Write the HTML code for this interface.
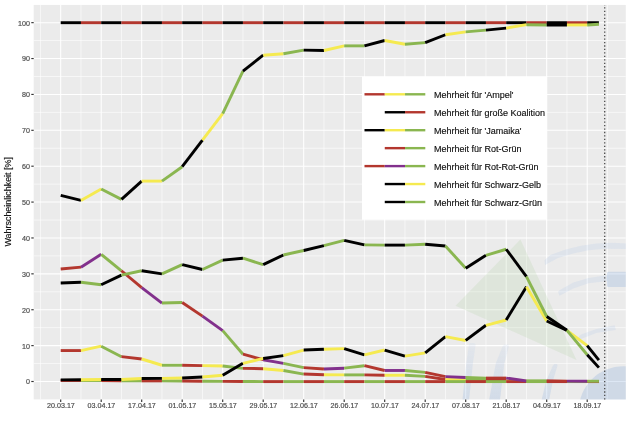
<!DOCTYPE html>
<html><head><meta charset="utf-8"><title>Chart</title>
<style>
html,body{margin:0;padding:0;background:#fff;}
body{width:630px;height:424px;overflow:hidden;font-family:"Liberation Sans",sans-serif;}
svg{display:block;will-change:transform;}
text{font-family:"Liberation Sans",sans-serif;}
.t{font-size:7.15px;fill:#4d4d4d;stroke:#4d4d4d;stroke-width:0.18px;}
.l{font-size:9.0px;fill:#111;stroke:#111;stroke-width:0.15px;}
.a{font-size:8.95px;fill:#111;stroke:#111;stroke-width:0.15px;}
</style></head><body>
<svg width="630" height="424" viewBox="0 0 630 424">
<rect width="630" height="424" fill="#fff"/>
<defs><linearGradient id="lg" gradientUnits="userSpaceOnUse" x1="0" y1="340" x2="0" y2="400"><stop offset="0" stop-color="#8fb4e3" stop-opacity="0.08"/><stop offset="1" stop-color="#8fb2e0" stop-opacity="0.27"/></linearGradient><filter id="bl" x="-5%" y="-5%" width="110%" height="110%"><feGaussianBlur stdDeviation="0.7"/></filter><clipPath id="p"><rect x="33.7" y="4.95" width="592.0999999999999" height="394.45"/></clipPath></defs>
<rect x="33.7" y="4.95" width="592.0999999999999" height="394.45" fill="#ebebeb"/>
<g>
<line x1="33.7" x2="625.8" y1="363.56" y2="363.56" stroke="#fff" stroke-width="0.6"/>
<line x1="33.7" x2="625.8" y1="327.67" y2="327.67" stroke="#fff" stroke-width="0.6"/>
<line x1="33.7" x2="625.8" y1="291.79" y2="291.79" stroke="#fff" stroke-width="0.6"/>
<line x1="33.7" x2="625.8" y1="255.90" y2="255.90" stroke="#fff" stroke-width="0.6"/>
<line x1="33.7" x2="625.8" y1="220.02" y2="220.02" stroke="#fff" stroke-width="0.6"/>
<line x1="33.7" x2="625.8" y1="184.13" y2="184.13" stroke="#fff" stroke-width="0.6"/>
<line x1="33.7" x2="625.8" y1="148.25" y2="148.25" stroke="#fff" stroke-width="0.6"/>
<line x1="33.7" x2="625.8" y1="112.36" y2="112.36" stroke="#fff" stroke-width="0.6"/>
<line x1="33.7" x2="625.8" y1="76.48" y2="76.48" stroke="#fff" stroke-width="0.6"/>
<line x1="33.7" x2="625.8" y1="40.59" y2="40.59" stroke="#fff" stroke-width="0.6"/>
<line y1="4.95" y2="399.4" x1="40.45" x2="40.45" stroke="#fff" stroke-width="0.6"/>
<line y1="4.95" y2="399.4" x1="80.95" x2="80.95" stroke="#fff" stroke-width="0.6"/>
<line y1="4.95" y2="399.4" x1="121.45" x2="121.45" stroke="#fff" stroke-width="0.6"/>
<line y1="4.95" y2="399.4" x1="161.95" x2="161.95" stroke="#fff" stroke-width="0.6"/>
<line y1="4.95" y2="399.4" x1="202.45" x2="202.45" stroke="#fff" stroke-width="0.6"/>
<line y1="4.95" y2="399.4" x1="242.95" x2="242.95" stroke="#fff" stroke-width="0.6"/>
<line y1="4.95" y2="399.4" x1="283.45" x2="283.45" stroke="#fff" stroke-width="0.6"/>
<line y1="4.95" y2="399.4" x1="323.95" x2="323.95" stroke="#fff" stroke-width="0.6"/>
<line y1="4.95" y2="399.4" x1="364.45" x2="364.45" stroke="#fff" stroke-width="0.6"/>
<line y1="4.95" y2="399.4" x1="404.95" x2="404.95" stroke="#fff" stroke-width="0.6"/>
<line y1="4.95" y2="399.4" x1="445.45" x2="445.45" stroke="#fff" stroke-width="0.6"/>
<line y1="4.95" y2="399.4" x1="485.95" x2="485.95" stroke="#fff" stroke-width="0.6"/>
<line y1="4.95" y2="399.4" x1="526.45" x2="526.45" stroke="#fff" stroke-width="0.6"/>
<line y1="4.95" y2="399.4" x1="566.95" x2="566.95" stroke="#fff" stroke-width="0.6"/>
<line y1="4.95" y2="399.4" x1="607.45" x2="607.45" stroke="#fff" stroke-width="0.6"/>
<line x1="33.7" x2="625.8" y1="381.50" y2="381.50" stroke="#fff" stroke-width="1.05"/>
<line x1="33.7" x2="625.8" y1="345.62" y2="345.62" stroke="#fff" stroke-width="1.05"/>
<line x1="33.7" x2="625.8" y1="309.73" y2="309.73" stroke="#fff" stroke-width="1.05"/>
<line x1="33.7" x2="625.8" y1="273.85" y2="273.85" stroke="#fff" stroke-width="1.05"/>
<line x1="33.7" x2="625.8" y1="237.96" y2="237.96" stroke="#fff" stroke-width="1.05"/>
<line x1="33.7" x2="625.8" y1="202.08" y2="202.08" stroke="#fff" stroke-width="1.05"/>
<line x1="33.7" x2="625.8" y1="166.19" y2="166.19" stroke="#fff" stroke-width="1.05"/>
<line x1="33.7" x2="625.8" y1="130.31" y2="130.31" stroke="#fff" stroke-width="1.05"/>
<line x1="33.7" x2="625.8" y1="94.42" y2="94.42" stroke="#fff" stroke-width="1.05"/>
<line x1="33.7" x2="625.8" y1="58.54" y2="58.54" stroke="#fff" stroke-width="1.05"/>
<line x1="33.7" x2="625.8" y1="22.65" y2="22.65" stroke="#fff" stroke-width="1.05"/>
<line y1="4.95" y2="399.4" x1="60.70" x2="60.70" stroke="#fff" stroke-width="1.05"/>
<line y1="4.95" y2="399.4" x1="101.20" x2="101.20" stroke="#fff" stroke-width="1.05"/>
<line y1="4.95" y2="399.4" x1="141.70" x2="141.70" stroke="#fff" stroke-width="1.05"/>
<line y1="4.95" y2="399.4" x1="182.20" x2="182.20" stroke="#fff" stroke-width="1.05"/>
<line y1="4.95" y2="399.4" x1="222.70" x2="222.70" stroke="#fff" stroke-width="1.05"/>
<line y1="4.95" y2="399.4" x1="263.20" x2="263.20" stroke="#fff" stroke-width="1.05"/>
<line y1="4.95" y2="399.4" x1="303.70" x2="303.70" stroke="#fff" stroke-width="1.05"/>
<line y1="4.95" y2="399.4" x1="344.20" x2="344.20" stroke="#fff" stroke-width="1.05"/>
<line y1="4.95" y2="399.4" x1="384.70" x2="384.70" stroke="#fff" stroke-width="1.05"/>
<line y1="4.95" y2="399.4" x1="425.20" x2="425.20" stroke="#fff" stroke-width="1.05"/>
<line y1="4.95" y2="399.4" x1="465.70" x2="465.70" stroke="#fff" stroke-width="1.05"/>
<line y1="4.95" y2="399.4" x1="506.20" x2="506.20" stroke="#fff" stroke-width="1.05"/>
<line y1="4.95" y2="399.4" x1="546.70" x2="546.70" stroke="#fff" stroke-width="1.05"/>
<line y1="4.95" y2="399.4" x1="587.20" x2="587.20" stroke="#fff" stroke-width="1.05"/>
</g>
<g clip-path="url(#p)">
<g fill="#8fb4e3" fill-opacity="0.14" filter="url(#bl)">
<path d="M544.5,260.3 L550.3,254.9 L565.6,249.6 L581.0,245.7 L596.3,243.4 L611.6,242.7 L626.9,243.4 L626.9,249.1 L604.0,248.8 L588.6,250.3 L573.3,253.4 L558.0,258.0 L545.1,264.9 Z"/>
<path d="M558.0,292.0 L559.5,290.2 L573.3,282.5 L588.6,277.9 L607.8,275.1 L607.8,281.0 L588.6,283.3 L573.3,288.6 L559.5,295.8 Z"/>
<path d="M578.7,336.5 L581.0,334.5 L596.3,329.1 L614.7,325.3 L615.8,329.9 L596.3,332.9 L579.7,339.5 Z"/>
</g>
<g fill="url(#lg)" filter="url(#bl)">
<path d="M470.0,343.0 L469.0,344.5 L466.2,363.6 L462.4,400.7 L469.0,400.7 L472.9,363.6 L475.7,344.5 L474.4,343.0 Z"/>
<path d="M504.3,344.5 L502.4,346.4 L495.7,363.6 L489.0,400.7 L499.9,400.7 L504.3,363.6 L509.0,346.4 L508.1,344.5 Z"/>
<path d="M554.4,364.0 L552.9,365.5 L546.2,380.7 L541.4,400.7 L549.0,400.7 L552.9,380.7 L557.6,365.5 L557.0,364.0 Z"/>
</g>
<g fill="#8fb0dc" fill-opacity="0.30" filter="url(#bl)">
<rect x="607" y="271.8" width="20" height="15.2" rx="1.5"/>
<circle cx="623.5" cy="411" r="44.8"/>
</g>
<path d="M520.4,239.5 L455.5,305.7 L576.5,360 Z" fill="#9bca87" fill-opacity="0.16"/>
</g>
<rect x="362" y="76.5" width="185.1" height="143.2" fill="#fff"/>
<g>
<line x1="364.49" x2="384.76" y1="94.30" y2="94.30" stroke="#B3372E" stroke-width="2.4"/>
<line x1="384.76" x2="405.03" y1="94.30" y2="94.30" stroke="#F5EA50" stroke-width="2.4"/>
<line x1="405.03" x2="425.30" y1="94.30" y2="94.30" stroke="#8AB650" stroke-width="2.4"/>
<text x="433.9" y="98.00" class="l">Mehrheit für 'Ampel'</text>
<line x1="384.76" x2="405.03" y1="112.25" y2="112.25" stroke="#000000" stroke-width="2.4"/>
<line x1="405.03" x2="425.30" y1="112.25" y2="112.25" stroke="#B3372E" stroke-width="2.4"/>
<text x="433.9" y="115.95" class="l">Mehrheit für große Koalition</text>
<line x1="364.49" x2="384.76" y1="130.20" y2="130.20" stroke="#000000" stroke-width="2.4"/>
<line x1="384.76" x2="405.03" y1="130.20" y2="130.20" stroke="#F5EA50" stroke-width="2.4"/>
<line x1="405.03" x2="425.30" y1="130.20" y2="130.20" stroke="#8AB650" stroke-width="2.4"/>
<text x="433.9" y="133.90" class="l">Mehrheit für 'Jamaika'</text>
<line x1="384.76" x2="405.03" y1="148.15" y2="148.15" stroke="#B3372E" stroke-width="2.4"/>
<line x1="405.03" x2="425.30" y1="148.15" y2="148.15" stroke="#8AB650" stroke-width="2.4"/>
<text x="433.9" y="151.85" class="l">Mehrheit für Rot-Grün</text>
<line x1="364.49" x2="384.76" y1="166.10" y2="166.10" stroke="#B3372E" stroke-width="2.4"/>
<line x1="384.76" x2="405.03" y1="166.10" y2="166.10" stroke="#82308C" stroke-width="2.4"/>
<line x1="405.03" x2="425.30" y1="166.10" y2="166.10" stroke="#8AB650" stroke-width="2.4"/>
<text x="433.9" y="169.80" class="l">Mehrheit für Rot-Rot-Grün</text>
<line x1="384.76" x2="405.03" y1="184.05" y2="184.05" stroke="#000000" stroke-width="2.4"/>
<line x1="405.03" x2="425.30" y1="184.05" y2="184.05" stroke="#F5EA50" stroke-width="2.4"/>
<text x="433.9" y="187.75" class="l">Mehrheit für Schwarz-Gelb</text>
<line x1="384.76" x2="405.03" y1="202.00" y2="202.00" stroke="#000000" stroke-width="2.4"/>
<line x1="405.03" x2="425.30" y1="202.00" y2="202.00" stroke="#8AB650" stroke-width="2.4"/>
<text x="433.9" y="205.70" class="l">Mehrheit für Schwarz-Grün</text>
</g>
<g stroke-width="2.9" stroke-linecap="butt" fill="none">
<line x1="60.70" y1="350.57" x2="80.95" y2="350.57" stroke="#B3372E"/>
<line x1="80.95" y1="350.57" x2="101.20" y2="346.20" stroke="#F5EA50"/>
<line x1="101.20" y1="346.20" x2="121.45" y2="356.67" stroke="#8AB650"/>
<line x1="121.45" y1="356.67" x2="141.70" y2="359.00" stroke="#B3372E"/>
<line x1="141.70" y1="359.00" x2="161.95" y2="365.24" stroke="#F5EA50"/>
<line x1="161.95" y1="365.24" x2="182.20" y2="365.24" stroke="#8AB650"/>
<line x1="182.20" y1="365.24" x2="202.45" y2="365.64" stroke="#B3372E"/>
<line x1="202.45" y1="365.64" x2="222.70" y2="366.00" stroke="#F5EA50"/>
<line x1="222.70" y1="366.00" x2="242.95" y2="368.33" stroke="#8AB650"/>
<line x1="242.95" y1="368.33" x2="263.20" y2="368.69" stroke="#B3372E"/>
<line x1="263.20" y1="368.69" x2="283.45" y2="370.48" stroke="#F5EA50"/>
<line x1="283.45" y1="370.48" x2="303.70" y2="374.07" stroke="#8AB650"/>
<line x1="303.70" y1="374.07" x2="323.95" y2="374.68" stroke="#B3372E"/>
<line x1="323.95" y1="374.68" x2="344.20" y2="374.89" stroke="#F5EA50"/>
<line x1="344.20" y1="374.89" x2="364.45" y2="374.89" stroke="#8AB650"/>
<line x1="364.45" y1="374.89" x2="384.70" y2="375.25" stroke="#B3372E"/>
<line x1="384.70" y1="375.25" x2="404.95" y2="375.25" stroke="#F5EA50"/>
<line x1="404.95" y1="375.25" x2="425.20" y2="376.40" stroke="#8AB650"/>
<line x1="425.20" y1="376.40" x2="445.45" y2="379.45" stroke="#B3372E"/>
<line x1="445.45" y1="379.45" x2="465.70" y2="379.99" stroke="#F5EA50"/>
<line x1="465.70" y1="379.99" x2="485.95" y2="380.34" stroke="#8AB650"/>
<line x1="485.95" y1="380.34" x2="506.20" y2="380.52" stroke="#B3372E"/>
<line x1="506.20" y1="380.52" x2="526.45" y2="381.24" stroke="#F5EA50"/>
<line x1="526.45" y1="381.24" x2="546.70" y2="381.31" stroke="#8AB650"/>
<line x1="546.70" y1="381.31" x2="566.95" y2="381.38" stroke="#B3372E"/>
<line x1="566.95" y1="381.38" x2="587.20" y2="381.42" stroke="#F5EA50"/>
<line x1="587.20" y1="381.42" x2="598.90" y2="381.42" stroke="#8AB650"/>
<line x1="60.70" y1="22.70" x2="80.95" y2="22.70" stroke="#000000"/>
<line x1="80.95" y1="22.70" x2="101.20" y2="22.70" stroke="#B3372E"/>
<line x1="101.20" y1="22.70" x2="121.45" y2="22.70" stroke="#000000"/>
<line x1="121.45" y1="22.70" x2="141.70" y2="22.70" stroke="#B3372E"/>
<line x1="141.70" y1="22.70" x2="161.95" y2="22.70" stroke="#000000"/>
<line x1="161.95" y1="22.70" x2="182.20" y2="22.70" stroke="#B3372E"/>
<line x1="182.20" y1="22.70" x2="202.45" y2="22.70" stroke="#000000"/>
<line x1="202.45" y1="22.70" x2="222.70" y2="22.70" stroke="#B3372E"/>
<line x1="222.70" y1="22.70" x2="242.95" y2="22.70" stroke="#000000"/>
<line x1="242.95" y1="22.70" x2="263.20" y2="22.70" stroke="#B3372E"/>
<line x1="263.20" y1="22.70" x2="283.45" y2="22.70" stroke="#000000"/>
<line x1="283.45" y1="22.70" x2="303.70" y2="22.70" stroke="#B3372E"/>
<line x1="303.70" y1="22.70" x2="323.95" y2="22.70" stroke="#000000"/>
<line x1="323.95" y1="22.70" x2="344.20" y2="22.70" stroke="#B3372E"/>
<line x1="344.20" y1="22.70" x2="364.45" y2="22.70" stroke="#000000"/>
<line x1="364.45" y1="22.70" x2="384.70" y2="22.70" stroke="#B3372E"/>
<line x1="384.70" y1="22.70" x2="404.95" y2="22.70" stroke="#000000"/>
<line x1="404.95" y1="22.70" x2="425.20" y2="22.70" stroke="#B3372E"/>
<line x1="425.20" y1="22.70" x2="445.45" y2="22.70" stroke="#000000"/>
<line x1="445.45" y1="22.70" x2="465.70" y2="22.70" stroke="#B3372E"/>
<line x1="465.70" y1="22.70" x2="485.95" y2="22.70" stroke="#000000"/>
<line x1="485.95" y1="22.70" x2="506.20" y2="22.70" stroke="#B3372E"/>
<line x1="506.20" y1="22.70" x2="526.45" y2="22.70" stroke="#000000"/>
<line x1="526.45" y1="22.70" x2="546.70" y2="22.70" stroke="#B3372E"/>
<line x1="546.70" y1="22.70" x2="566.95" y2="22.70" stroke="#000000"/>
<line x1="566.95" y1="22.70" x2="587.20" y2="22.70" stroke="#B3372E"/>
<line x1="587.20" y1="22.70" x2="598.90" y2="22.70" stroke="#000000"/>
<line x1="60.70" y1="195.43" x2="80.95" y2="200.46" stroke="#000000"/>
<line x1="80.95" y1="200.46" x2="101.20" y2="188.98" stroke="#F5EA50"/>
<line x1="101.20" y1="188.98" x2="121.45" y2="199.38" stroke="#8AB650"/>
<line x1="121.45" y1="199.38" x2="141.70" y2="181.09" stroke="#000000"/>
<line x1="141.70" y1="181.09" x2="161.95" y2="181.09" stroke="#F5EA50"/>
<line x1="161.95" y1="181.09" x2="182.20" y2="166.74" stroke="#8AB650"/>
<line x1="182.20" y1="166.74" x2="202.45" y2="140.02" stroke="#000000"/>
<line x1="202.45" y1="140.02" x2="222.70" y2="113.65" stroke="#F5EA50"/>
<line x1="222.70" y1="113.65" x2="242.95" y2="71.15" stroke="#8AB650"/>
<line x1="242.95" y1="71.15" x2="263.20" y2="55.18" stroke="#000000"/>
<line x1="263.20" y1="55.18" x2="283.45" y2="53.75" stroke="#F5EA50"/>
<line x1="283.45" y1="53.75" x2="303.70" y2="50.16" stroke="#8AB650"/>
<line x1="303.70" y1="50.16" x2="323.95" y2="50.52" stroke="#000000"/>
<line x1="323.95" y1="50.52" x2="344.20" y2="45.86" stroke="#F5EA50"/>
<line x1="344.20" y1="45.86" x2="364.45" y2="45.86" stroke="#8AB650"/>
<line x1="364.45" y1="45.86" x2="384.70" y2="40.48" stroke="#000000"/>
<line x1="384.70" y1="40.48" x2="404.95" y2="44.24" stroke="#F5EA50"/>
<line x1="404.95" y1="44.24" x2="425.20" y2="42.63" stroke="#8AB650"/>
<line x1="425.20" y1="42.63" x2="445.45" y2="34.74" stroke="#000000"/>
<line x1="445.45" y1="34.74" x2="465.70" y2="31.87" stroke="#F5EA50"/>
<line x1="465.70" y1="31.87" x2="485.95" y2="30.07" stroke="#8AB650"/>
<line x1="485.95" y1="30.07" x2="506.20" y2="28.10" stroke="#000000"/>
<line x1="506.20" y1="28.10" x2="526.45" y2="24.69" stroke="#F5EA50"/>
<line x1="526.45" y1="24.69" x2="546.70" y2="25.05" stroke="#8AB650"/>
<line x1="546.70" y1="25.05" x2="566.95" y2="24.94" stroke="#000000"/>
<line x1="566.95" y1="24.94" x2="587.20" y2="24.94" stroke="#F5EA50"/>
<line x1="587.20" y1="24.94" x2="598.90" y2="24.23" stroke="#8AB650"/>
<line x1="60.70" y1="380.52" x2="80.95" y2="380.52" stroke="#B3372E"/>
<line x1="80.95" y1="380.52" x2="101.20" y2="380.52" stroke="#8AB650"/>
<line x1="101.20" y1="380.52" x2="121.45" y2="380.70" stroke="#B3372E"/>
<line x1="121.45" y1="380.70" x2="141.70" y2="380.88" stroke="#8AB650"/>
<line x1="141.70" y1="380.88" x2="161.95" y2="380.88" stroke="#B3372E"/>
<line x1="161.95" y1="380.88" x2="182.20" y2="381.06" stroke="#8AB650"/>
<line x1="182.20" y1="381.06" x2="202.45" y2="381.24" stroke="#B3372E"/>
<line x1="202.45" y1="381.24" x2="222.70" y2="381.42" stroke="#8AB650"/>
<line x1="222.70" y1="381.42" x2="242.95" y2="381.49" stroke="#B3372E"/>
<line x1="242.95" y1="381.49" x2="263.20" y2="381.60" stroke="#8AB650"/>
<line x1="263.20" y1="381.60" x2="283.45" y2="381.60" stroke="#B3372E"/>
<line x1="283.45" y1="381.60" x2="303.70" y2="381.60" stroke="#8AB650"/>
<line x1="303.70" y1="381.60" x2="323.95" y2="381.60" stroke="#B3372E"/>
<line x1="323.95" y1="381.60" x2="344.20" y2="381.60" stroke="#8AB650"/>
<line x1="344.20" y1="381.60" x2="364.45" y2="381.60" stroke="#B3372E"/>
<line x1="364.45" y1="381.60" x2="384.70" y2="381.60" stroke="#8AB650"/>
<line x1="384.70" y1="381.60" x2="404.95" y2="381.60" stroke="#B3372E"/>
<line x1="404.95" y1="381.60" x2="425.20" y2="381.60" stroke="#8AB650"/>
<line x1="425.20" y1="381.60" x2="445.45" y2="381.60" stroke="#B3372E"/>
<line x1="445.45" y1="381.60" x2="465.70" y2="381.60" stroke="#8AB650"/>
<line x1="465.70" y1="381.60" x2="485.95" y2="381.60" stroke="#B3372E"/>
<line x1="485.95" y1="381.60" x2="506.20" y2="381.60" stroke="#8AB650"/>
<line x1="506.20" y1="381.60" x2="526.45" y2="381.60" stroke="#B3372E"/>
<line x1="526.45" y1="381.60" x2="546.70" y2="381.60" stroke="#8AB650"/>
<line x1="546.70" y1="381.60" x2="566.95" y2="381.60" stroke="#B3372E"/>
<line x1="566.95" y1="381.60" x2="587.20" y2="381.60" stroke="#8AB650"/>
<line x1="587.20" y1="381.60" x2="598.90" y2="381.60" stroke="#B3372E"/>
<line x1="60.70" y1="268.97" x2="80.95" y2="267.17" stroke="#B3372E"/>
<line x1="80.95" y1="267.17" x2="101.20" y2="254.26" stroke="#82308C"/>
<line x1="101.20" y1="254.26" x2="121.45" y2="270.76" stroke="#8AB650"/>
<line x1="121.45" y1="270.76" x2="141.70" y2="287.62" stroke="#B3372E"/>
<line x1="141.70" y1="287.62" x2="161.95" y2="303.04" stroke="#82308C"/>
<line x1="161.95" y1="303.04" x2="182.20" y2="302.51" stroke="#8AB650"/>
<line x1="182.20" y1="302.51" x2="202.45" y2="316.14" stroke="#B3372E"/>
<line x1="202.45" y1="316.14" x2="222.70" y2="330.66" stroke="#82308C"/>
<line x1="222.70" y1="330.66" x2="242.95" y2="354.20" stroke="#8AB650"/>
<line x1="242.95" y1="354.20" x2="263.20" y2="359.72" stroke="#B3372E"/>
<line x1="263.20" y1="359.72" x2="283.45" y2="363.41" stroke="#82308C"/>
<line x1="283.45" y1="363.41" x2="303.70" y2="367.61" stroke="#8AB650"/>
<line x1="303.70" y1="367.61" x2="323.95" y2="369.05" stroke="#B3372E"/>
<line x1="323.95" y1="369.05" x2="344.20" y2="368.18" stroke="#82308C"/>
<line x1="344.20" y1="368.18" x2="364.45" y2="365.71" stroke="#8AB650"/>
<line x1="364.45" y1="365.71" x2="384.70" y2="370.48" stroke="#B3372E"/>
<line x1="384.70" y1="370.48" x2="404.95" y2="370.48" stroke="#82308C"/>
<line x1="404.95" y1="370.48" x2="425.20" y2="372.38" stroke="#8AB650"/>
<line x1="425.20" y1="372.38" x2="445.45" y2="376.65" stroke="#B3372E"/>
<line x1="445.45" y1="376.65" x2="465.70" y2="377.51" stroke="#82308C"/>
<line x1="465.70" y1="377.51" x2="485.95" y2="378.08" stroke="#8AB650"/>
<line x1="485.95" y1="378.08" x2="506.20" y2="378.08" stroke="#B3372E"/>
<line x1="506.20" y1="378.08" x2="526.45" y2="380.95" stroke="#82308C"/>
<line x1="526.45" y1="380.95" x2="546.70" y2="381.06" stroke="#8AB650"/>
<line x1="546.70" y1="381.06" x2="566.95" y2="381.17" stroke="#B3372E"/>
<line x1="566.95" y1="381.17" x2="587.20" y2="381.24" stroke="#82308C"/>
<line x1="587.20" y1="381.24" x2="598.90" y2="381.24" stroke="#8AB650"/>
<line x1="60.70" y1="379.91" x2="80.95" y2="379.81" stroke="#000000"/>
<line x1="80.95" y1="379.81" x2="101.20" y2="379.52" stroke="#F5EA50"/>
<line x1="101.20" y1="379.52" x2="121.45" y2="379.45" stroke="#000000"/>
<line x1="121.45" y1="379.45" x2="141.70" y2="378.55" stroke="#F5EA50"/>
<line x1="141.70" y1="378.55" x2="161.95" y2="378.37" stroke="#000000"/>
<line x1="161.95" y1="378.37" x2="182.20" y2="378.01" stroke="#F5EA50"/>
<line x1="182.20" y1="378.01" x2="202.45" y2="376.94" stroke="#000000"/>
<line x1="202.45" y1="376.94" x2="222.70" y2="375.32" stroke="#F5EA50"/>
<line x1="222.70" y1="375.32" x2="242.95" y2="363.31" stroke="#000000"/>
<line x1="242.95" y1="363.31" x2="263.20" y2="358.46" stroke="#F5EA50"/>
<line x1="263.20" y1="358.46" x2="283.45" y2="355.59" stroke="#000000"/>
<line x1="283.45" y1="355.59" x2="303.70" y2="350.03" stroke="#F5EA50"/>
<line x1="303.70" y1="350.03" x2="323.95" y2="349.32" stroke="#000000"/>
<line x1="323.95" y1="349.32" x2="344.20" y2="348.60" stroke="#F5EA50"/>
<line x1="344.20" y1="348.60" x2="364.45" y2="354.81" stroke="#000000"/>
<line x1="364.45" y1="354.81" x2="384.70" y2="350.03" stroke="#F5EA50"/>
<line x1="384.70" y1="350.03" x2="404.95" y2="356.13" stroke="#000000"/>
<line x1="404.95" y1="356.13" x2="425.20" y2="352.90" stroke="#F5EA50"/>
<line x1="425.20" y1="352.90" x2="445.45" y2="336.58" stroke="#000000"/>
<line x1="445.45" y1="336.58" x2="465.70" y2="340.46" stroke="#F5EA50"/>
<line x1="465.70" y1="340.46" x2="485.95" y2="325.28" stroke="#000000"/>
<line x1="485.95" y1="325.28" x2="506.20" y2="320.01" stroke="#F5EA50"/>
<line x1="506.20" y1="320.01" x2="526.45" y2="286.69" stroke="#000000"/>
<line x1="526.45" y1="286.69" x2="546.70" y2="320.98" stroke="#F5EA50"/>
<line x1="546.70" y1="320.98" x2="566.95" y2="330.31" stroke="#000000"/>
<line x1="566.95" y1="330.31" x2="587.20" y2="345.55" stroke="#F5EA50"/>
<line x1="587.20" y1="345.55" x2="598.90" y2="360.08" stroke="#000000"/>
<line x1="60.70" y1="282.96" x2="80.95" y2="282.24" stroke="#000000"/>
<line x1="80.95" y1="282.24" x2="101.20" y2="284.75" stroke="#8AB650"/>
<line x1="101.20" y1="284.75" x2="121.45" y2="275.07" stroke="#000000"/>
<line x1="121.45" y1="275.07" x2="141.70" y2="270.76" stroke="#8AB650"/>
<line x1="141.70" y1="270.76" x2="161.95" y2="273.81" stroke="#000000"/>
<line x1="161.95" y1="273.81" x2="182.20" y2="264.66" stroke="#8AB650"/>
<line x1="182.20" y1="264.66" x2="202.45" y2="269.51" stroke="#000000"/>
<line x1="202.45" y1="269.51" x2="222.70" y2="260.18" stroke="#8AB650"/>
<line x1="222.70" y1="260.18" x2="242.95" y2="258.21" stroke="#000000"/>
<line x1="242.95" y1="258.21" x2="263.20" y2="264.66" stroke="#8AB650"/>
<line x1="263.20" y1="264.66" x2="283.45" y2="254.98" stroke="#000000"/>
<line x1="283.45" y1="254.98" x2="303.70" y2="250.50" stroke="#8AB650"/>
<line x1="303.70" y1="250.50" x2="323.95" y2="245.65" stroke="#000000"/>
<line x1="323.95" y1="245.65" x2="344.20" y2="240.38" stroke="#8AB650"/>
<line x1="344.20" y1="240.38" x2="364.45" y2="244.86" stroke="#000000"/>
<line x1="364.45" y1="244.86" x2="384.70" y2="245.11" stroke="#8AB650"/>
<line x1="384.70" y1="245.11" x2="404.95" y2="245.11" stroke="#000000"/>
<line x1="404.95" y1="245.11" x2="425.20" y2="244.22" stroke="#8AB650"/>
<line x1="425.20" y1="244.22" x2="445.45" y2="246.01" stroke="#000000"/>
<line x1="445.45" y1="246.01" x2="465.70" y2="268.25" stroke="#8AB650"/>
<line x1="465.70" y1="268.25" x2="485.95" y2="255.34" stroke="#000000"/>
<line x1="485.95" y1="255.34" x2="506.20" y2="249.24" stroke="#8AB650"/>
<line x1="506.20" y1="249.24" x2="526.45" y2="276.68" stroke="#000000"/>
<line x1="526.45" y1="276.68" x2="546.70" y2="316.50" stroke="#8AB650"/>
<line x1="546.70" y1="316.50" x2="566.95" y2="330.31" stroke="#000000"/>
<line x1="566.95" y1="330.31" x2="587.20" y2="354.70" stroke="#8AB650"/>
<line x1="587.20" y1="354.70" x2="598.90" y2="367.61" stroke="#000000"/>
</g>
<line x1="604.7" x2="604.7" y1="4.95" y2="399.4" stroke="#4a4a4a" stroke-width="1.3" stroke-dasharray="1.3 2.16" stroke-dashoffset="-2.35"/>
<g>
<line x1="31.3" x2="33.7" y1="381.50" y2="381.50" stroke="#333" stroke-width="1.15"/>
<text x="29.9" y="384.40" text-anchor="end" class="t">0</text>
<line x1="31.3" x2="33.7" y1="345.62" y2="345.62" stroke="#333" stroke-width="1.15"/>
<text x="29.9" y="348.51" text-anchor="end" class="t">10</text>
<line x1="31.3" x2="33.7" y1="309.73" y2="309.73" stroke="#333" stroke-width="1.15"/>
<text x="29.9" y="312.63" text-anchor="end" class="t">20</text>
<line x1="31.3" x2="33.7" y1="273.85" y2="273.85" stroke="#333" stroke-width="1.15"/>
<text x="29.9" y="276.75" text-anchor="end" class="t">30</text>
<line x1="31.3" x2="33.7" y1="237.96" y2="237.96" stroke="#333" stroke-width="1.15"/>
<text x="29.9" y="240.86" text-anchor="end" class="t">40</text>
<line x1="31.3" x2="33.7" y1="202.08" y2="202.08" stroke="#333" stroke-width="1.15"/>
<text x="29.9" y="204.98" text-anchor="end" class="t">50</text>
<line x1="31.3" x2="33.7" y1="166.19" y2="166.19" stroke="#333" stroke-width="1.15"/>
<text x="29.9" y="169.09" text-anchor="end" class="t">60</text>
<line x1="31.3" x2="33.7" y1="130.31" y2="130.31" stroke="#333" stroke-width="1.15"/>
<text x="29.9" y="133.21" text-anchor="end" class="t">70</text>
<line x1="31.3" x2="33.7" y1="94.42" y2="94.42" stroke="#333" stroke-width="1.15"/>
<text x="29.9" y="97.32" text-anchor="end" class="t">80</text>
<line x1="31.3" x2="33.7" y1="58.54" y2="58.54" stroke="#333" stroke-width="1.15"/>
<text x="29.9" y="61.44" text-anchor="end" class="t">90</text>
<line x1="31.3" x2="33.7" y1="22.65" y2="22.65" stroke="#333" stroke-width="1.15"/>
<text x="29.9" y="25.55" text-anchor="end" class="t">100</text>
<line y1="399.4" y2="401.9" x1="60.70" x2="60.70" stroke="#333" stroke-width="1.15"/>
<text x="60.95" y="408.25" text-anchor="middle" class="t">20.03.17</text>
<line y1="399.4" y2="401.9" x1="101.20" x2="101.20" stroke="#333" stroke-width="1.15"/>
<text x="101.45" y="408.25" text-anchor="middle" class="t">03.04.17</text>
<line y1="399.4" y2="401.9" x1="141.70" x2="141.70" stroke="#333" stroke-width="1.15"/>
<text x="141.95" y="408.25" text-anchor="middle" class="t">17.04.17</text>
<line y1="399.4" y2="401.9" x1="182.20" x2="182.20" stroke="#333" stroke-width="1.15"/>
<text x="182.45" y="408.25" text-anchor="middle" class="t">01.05.17</text>
<line y1="399.4" y2="401.9" x1="222.70" x2="222.70" stroke="#333" stroke-width="1.15"/>
<text x="222.95" y="408.25" text-anchor="middle" class="t">15.05.17</text>
<line y1="399.4" y2="401.9" x1="263.20" x2="263.20" stroke="#333" stroke-width="1.15"/>
<text x="263.45" y="408.25" text-anchor="middle" class="t">29.05.17</text>
<line y1="399.4" y2="401.9" x1="303.70" x2="303.70" stroke="#333" stroke-width="1.15"/>
<text x="303.95" y="408.25" text-anchor="middle" class="t">12.06.17</text>
<line y1="399.4" y2="401.9" x1="344.20" x2="344.20" stroke="#333" stroke-width="1.15"/>
<text x="344.45" y="408.25" text-anchor="middle" class="t">26.06.17</text>
<line y1="399.4" y2="401.9" x1="384.70" x2="384.70" stroke="#333" stroke-width="1.15"/>
<text x="384.95" y="408.25" text-anchor="middle" class="t">10.07.17</text>
<line y1="399.4" y2="401.9" x1="425.20" x2="425.20" stroke="#333" stroke-width="1.15"/>
<text x="425.45" y="408.25" text-anchor="middle" class="t">24.07.17</text>
<line y1="399.4" y2="401.9" x1="465.70" x2="465.70" stroke="#333" stroke-width="1.15"/>
<text x="465.95" y="408.25" text-anchor="middle" class="t">07.08.17</text>
<line y1="399.4" y2="401.9" x1="506.20" x2="506.20" stroke="#333" stroke-width="1.15"/>
<text x="506.45" y="408.25" text-anchor="middle" class="t">21.08.17</text>
<line y1="399.4" y2="401.9" x1="546.70" x2="546.70" stroke="#333" stroke-width="1.15"/>
<text x="546.95" y="408.25" text-anchor="middle" class="t">04.09.17</text>
<line y1="399.4" y2="401.9" x1="587.20" x2="587.20" stroke="#333" stroke-width="1.15"/>
<text x="587.45" y="408.25" text-anchor="middle" class="t">18.09.17</text>
</g>
<text class="a" text-anchor="middle" transform="translate(10.9,201.8) rotate(-90)">Wahrscheinlichkeit [%]</text>
</svg>
</body></html>
